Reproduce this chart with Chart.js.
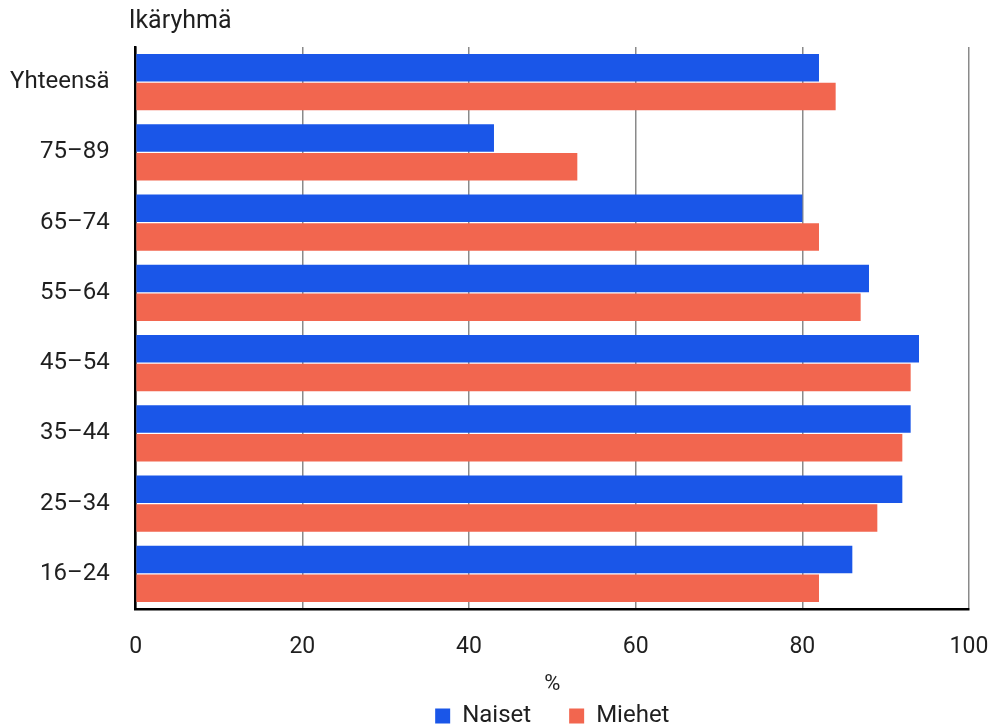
<!DOCTYPE html>
<html lang="fi">
<head>
    <meta charset="UTF-8">
    <title>Ikäryhmä</title>
    <script src="https://cdn.jsdelivr.net/npm/chart.js"></script>
    <style>
        body { margin: 0; background: #fff; }
        #wrap { width: 997px; height: 728px; }
    </style>
</head>
<body>
    <div id="wrap"><canvas id="ageChart"></canvas></div>

    <script>
        // Data
        const ageGroups = ['Yhteensä', '75–89', '65–74', '55–64', '45–54', '35–44', '25–34', '16–24'];
        const naiset = [82, 43, 80, 88, 94, 93, 92, 86];
        const miehet = [84, 53, 82, 87, 93, 92, 89, 82];
        const xTicks = [0, 20, 40, 60, 80, 100];

        const FONT = 'Roboto, "Noto Sans", sans-serif';
        const textColor = '#1f1f1f';
        const LEGEND_GAP = 38;

        // y-axis title drawn above the labels, like the original
        const yTitle = {
            id: 'yTitle',
            afterDraw(chart) {
                const c = chart.ctx;
                c.save();
                c.font = '25px ' + FONT;
                c.fillStyle = textColor;
                c.textAlign = 'left';
                c.textBaseline = 'middle';
                c.fillText('Ikäryhmä', chart.chartArea.left - 7, 22);
                c.restore();
            }
        };

        // wide gap between legend items without the extra height the padding adds
        const legendSpacing = {
            id: 'legendSpacing',
            beforeUpdate(chart) {
                const lg = chart.legend;
                if (!lg || lg._patched) return;
                lg._patched = true;
                const extra = LEGEND_GAP - 6;
                const fit = lg.fit, draw = lg._draw;
                lg.fit = function () { fit.call(this); this.height -= extra; };
                lg._draw = function () { this.top -= extra; draw.call(this); this.top += extra; };
            }
        };

        const ctx = document.getElementById('ageChart').getContext('2d');
        const ageChart = new Chart(ctx, {
            type: 'bar',
            data: {
                labels: ageGroups,
                datasets: [
                    { label: 'Naiset', data: naiset, backgroundColor: '#1a56e8' },
                    { label: 'Miehet', data: miehet, backgroundColor: '#f2664f' }
                ]
            },
            options: {
                indexAxis: 'y',
                responsive: true,
                maintainAspectRatio: false,
                animation: false,
                categoryPercentage: 0.82,
                barPercentage: 0.95,
                layout: { padding: { top: 47, right: 28, left: -16, bottom: -10 } },
                scales: {
                    x: {
                        min: 0,
                        max: 100,
                        afterBuildTicks(axis) { axis.ticks = xTicks.map(v => ({ value: v })); },
                        afterFit(axis) { axis.paddingLeft = 0; axis.paddingRight = 0; },
                        grid: { color: '#8a8a8a', lineWidth: 1.5, drawTicks: false },
                        border: { color: '#000', width: 2.5 },
                        ticks: { padding: 24, color: textColor, font: { family: FONT, size: 23 } },
                        title: { display: true, text: '%', color: textColor, font: { family: FONT, size: 22 }, padding: { top: -13, bottom: 0 } }
                    },
                    y: {
                        grid: { display: false, drawTicks: false },
                        border: { color: '#000', width: 2.5 },
                        ticks: { padding: 26, color: textColor, font: { family: FONT, size: 24 } }
                    }
                },
                plugins: {
                    legend: {
                        position: 'bottom',
                        fullSize: false,
                        labels: {
                            color: textColor,
                            font: { family: FONT, size: 24 },
                            boxWidth: 15,
                            boxHeight: 15,
                            padding: LEGEND_GAP,
                            useBorderRadius: false
                        }
                    },
                    tooltip: { enabled: false }
                }
            },
            plugins: [yTitle, legendSpacing]
        });
    </script>
</body>
</html>
